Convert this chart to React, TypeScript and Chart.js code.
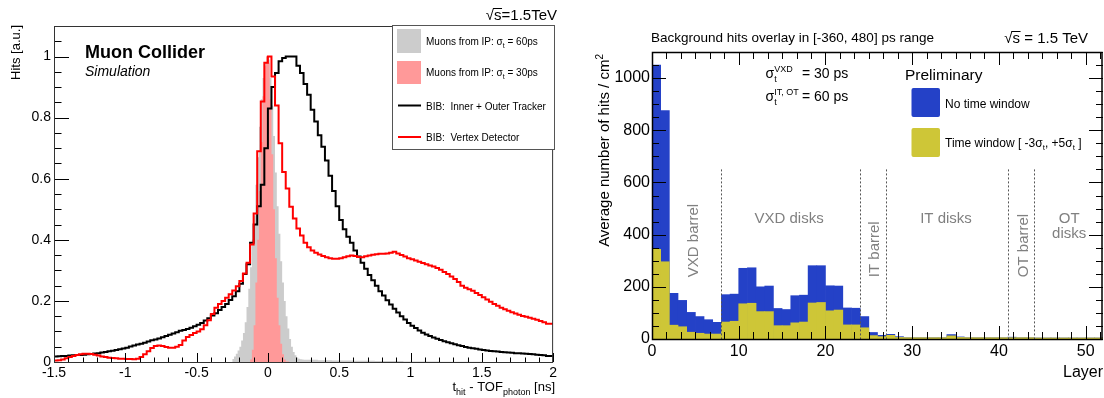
import React, { useEffect, useRef } from "react";
import { Chart, registerables } from "chart.js";

Chart.register(...registerables);

const FONT = "'Liberation Sans', Arial, Helvetica, sans-serif";

// ---------------- Left panel: hit time distributions ----------------
const TIME_START = -1.5;
const TIME_BIN = 0.025;
const TIME_MIN = -1.5;
const TIME_MAX = 2;
const HITS_MAX = 1.1;

// BIB: Inner + Outer Tracker (black), 140 bins of 0.025 ns from -1.5
const bibTracker = [
  0.017, 0.018, 0.019, 0.020, 0.020, 0.021, 0.022, 0.023, 0.023, 0.024,
  0.025, 0.026, 0.028, 0.029, 0.031, 0.033, 0.035, 0.037, 0.039, 0.042,
  0.044, 0.047, 0.051, 0.054, 0.057, 0.060, 0.063, 0.067, 0.071, 0.074,
  0.077, 0.081, 0.085, 0.089, 0.093, 0.097, 0.102, 0.105, 0.108, 0.112,
  0.117, 0.122, 0.128, 0.136, 0.143, 0.152, 0.160, 0.170, 0.180, 0.190,
  0.203, 0.215, 0.232, 0.256, 0.288, 0.320, 0.390, 0.450, 0.510, 0.580,
  0.700, 0.830, 0.900, 0.946, 0.985, 0.995, 1.000, 1.000, 1.000, 0.970,
  0.946, 0.910, 0.875, 0.826, 0.787, 0.742, 0.705, 0.660, 0.610, 0.560,
  0.510, 0.465, 0.435, 0.410, 0.390, 0.365, 0.345, 0.325, 0.305, 0.285,
  0.268, 0.250, 0.232, 0.218, 0.202, 0.188, 0.174, 0.162, 0.150, 0.139,
  0.128, 0.119, 0.111, 0.103, 0.096, 0.090, 0.085, 0.080, 0.076, 0.072,
  0.068, 0.065, 0.061, 0.058, 0.055, 0.052, 0.049, 0.047, 0.045, 0.043,
  0.041, 0.039, 0.038, 0.036, 0.035, 0.034, 0.033, 0.032, 0.031, 0.030,
  0.029, 0.029, 0.028, 0.027, 0.026, 0.025, 0.024, 0.023, 0.022, 0.020,
];

// BIB: Vertex Detector (red), same binning
const bibVertex = [
  0.004, 0.005, 0.006, 0.008, 0.012, 0.016, 0.020, 0.023, 0.025, 0.027,
  0.027, 0.026, 0.024, 0.021, 0.018, 0.016, 0.014, 0.013, 0.012, 0.011,
  0.011, 0.010, 0.010, 0.009, 0.011, 0.016, 0.025, 0.035, 0.046, 0.052,
  0.054, 0.052, 0.049, 0.047, 0.047, 0.050, 0.056, 0.070, 0.082, 0.088,
  0.095, 0.100, 0.107, 0.120, 0.137, 0.157, 0.178, 0.190, 0.200, 0.210,
  0.222, 0.234, 0.248, 0.265, 0.290, 0.325, 0.385, 0.486, 0.690, 0.853,
  0.980, 1.000, 0.935, 0.840, 0.716, 0.622, 0.568, 0.508, 0.470, 0.437,
  0.414, 0.390, 0.376, 0.365, 0.358, 0.352, 0.347, 0.343, 0.340, 0.338,
  0.338, 0.340, 0.343, 0.346, 0.349, 0.347, 0.344, 0.343, 0.346, 0.349,
  0.351, 0.353, 0.354, 0.354, 0.355, 0.358, 0.361, 0.355, 0.350, 0.345,
  0.340, 0.336, 0.332, 0.328, 0.324, 0.320, 0.316, 0.313, 0.308, 0.302,
  0.295, 0.288, 0.280, 0.272, 0.262, 0.250, 0.243, 0.238, 0.233, 0.226,
  0.219, 0.212, 0.205, 0.197, 0.190, 0.184, 0.178, 0.173, 0.168, 0.163,
  0.159, 0.155, 0.151, 0.148, 0.145, 0.142, 0.138, 0.134, 0.130, 0.125,
];

// Muons from IP, sigma_t = 60 ps (grey fill)
const MUON_BIN = 0.0125;
const MUON60_START = -0.25;
const muon60 = [
  0.005, 0.010, 0.018, 0.027, 0.038, 0.050, 0.070, 0.095, 0.130, 0.180,
  0.240, 0.310, 0.400, 0.480, 0.580, 0.670, 0.770, 0.860, 0.930, 0.980,
  1.000, 0.990, 0.930, 0.840, 0.740, 0.620, 0.510, 0.420, 0.330, 0.260,
  0.200, 0.150, 0.110, 0.075, 0.050, 0.033, 0.022, 0.015, 0.011, 0.009,
];
const MUON60_TAIL_START = 0.25;
const MUON60_TAIL_BIN = 0.05;
const muon60Tail = [
  0.008, 0.007, 0.007, 0.006, 0.006, 0.005, 0.005, 0.005, 0.004, 0.004,
  0.004, 0.003, 0.003, 0.003, 0.003, 0.002, 0.002, 0.002, 0.002, 0.002,
  0.001, 0.001, 0.001, 0.001, 0.001,
];

// Muons from IP, sigma_t = 30 ps (pink fill)
const MUON30_START = -0.125;
const muon30 = [
  0.002, 0.008, 0.040, 0.120, 0.260, 0.400, 0.560, 0.720, 0.870, 0.970,
  1.000, 0.980, 0.860, 0.680, 0.500, 0.340, 0.210, 0.120, 0.060, 0.025,
  0.008, 0.002,
];

// ---------------- Right panel: hits per layer ----------------
const LAYER_MAX = 52;
const HITS_CM2_MAX = 1100;
const layerNoWindow = [
  1050, 875, 175, 148, 102, 86, 74, 64, 170, 172,
  271, 273, 200, 203, 117, 113, 166, 168, 281, 281,
  204, 203, 119, 118, 86, 25, 14, 18, 9, 5,
  5, 5, 5, 5, 17, 8, 5, 5, 5, 5,
  5, 7, 5, 5, 4, 4, 4, 4, 4, 4,
  4, 4,
];
const layerTimeWindow = [
  344, 296, 53, 47, 26, 22, 19, 19, 65, 68,
  135, 137, 105, 105, 51, 51, 62, 65, 138, 140,
  108, 111, 54, 54, 43, 13, 9, 14, 6, 5,
  5, 5, 5, 5, 12, 6, 5, 5, 5, 5,
  5, 5, 5, 5, 4, 4, 4, 4, 4, 4,
  4, 4,
];
const regionBounds = [8, 24, 27, 41, 44];

// ---------------- helpers ----------------
type Pt = { x: number; y: number };
function histPoints(start: number, bin: number, vals: number[]): Pt[] {
  const pts = vals.map((v, i) => ({ x: start + i * bin, y: v }));
  pts.push({ x: start + vals.length * bin, y: vals[vals.length - 1] });
  return pts;
}
function filledHist(parts: { start: number; bin: number; vals: number[] }[]): Pt[] {
  const pts: Pt[] = [{ x: parts[0].start, y: 0 }];
  parts.forEach((p) => p.vals.forEach((v, i) => pts.push({ x: p.start + i * p.bin, y: v })));
  const last = parts[parts.length - 1];
  const end = last.start + last.vals.length * last.bin;
  pts.push({ x: end, y: last.vals[last.vals.length - 1] });
  pts.push({ x: end, y: 0 });
  return pts;
}

type Seg = { t: string; size: number; dy?: number; style?: string; stack?: boolean };
function fontOf(s: Seg) {
  return `${s.style || ""} ${s.size}px ${FONT}`.trim();
}
function drawSegs(ctx: CanvasRenderingContext2D, x: number, y: number, segs: Seg[], align = "left") {
  const widths = segs.map((s) => {
    ctx.font = fontOf(s);
    return ctx.measureText(s.t).width;
  });
  let total = 0;
  segs.forEach((s, i) => {
    if (!s.stack) total += widths[i];
  });
  let cx = align === "right" ? x - total : align === "center" ? x - total / 2 : x;
  ctx.textAlign = "left";
  segs.forEach((s, i) => {
    ctx.font = fontOf(s);
    ctx.fillText(s.t, cx, y + (s.dy || 0));
    if (!s.stack) cx += widths[i];
  });
}
function drawSqrtS(ctx: CanvasRenderingContext2D, xRight: number, base: number, size: number, rest: string) {
  ctx.font = `${size}px ${FONT}`;
  const wR = ctx.measureText("√").width;
  const wS = ctx.measureText("s").width;
  const wRest = ctx.measureText(rest).width;
  const x0 = xRight - (wR + wS + wRest);
  ctx.textAlign = "left";
  ctx.fillText("√", x0, base);
  ctx.fillText("s", x0 + wR, base);
  ctx.fillText(rest, x0 + wR + wS, base);
  ctx.beginPath();
  ctx.lineWidth = 1;
  ctx.strokeStyle = "#000";
  const oy = Math.round(base - size * 0.8) + 0.5;
  ctx.moveTo(x0 + wR - 1, oy);
  ctx.lineTo(x0 + wR + wS + 0.5, oy);
  ctx.stroke();
}
function tickLine(ctx: CanvasRenderingContext2D, x1: number, y1: number, x2: number, y2: number) {
  ctx.beginPath();
  ctx.moveTo(x1, y1);
  ctx.lineTo(x2, y2);
  ctx.stroke();
}
const fmt = (v: any) => String(Math.round(Number(v) * 100) / 100);

// ---------------- left decorations ----------------
const leftDecor = {
  id: "leftDecor",
  afterDraw(chart: any) {
    const { ctx, chartArea: a, scales } = chart;
    const xs = scales.x;
    const ys = scales.y;
    ctx.save();
    ctx.strokeStyle = "#000";
    ctx.lineWidth = 1;
    for (let i = 0; i <= 35; i++) {
      const px = Math.round(xs.getPixelForValue(TIME_MIN + i * 0.1)) + 0.5;
      tickLine(ctx, px, a.bottom, px, a.bottom - (i % 5 === 0 ? 9 : 4.5));
    }
    for (let i = 0; i <= 22; i++) {
      const py = Math.round(ys.getPixelForValue(i * 0.05)) + 0.5;
      tickLine(ctx, a.left, py, a.left + (i % 4 === 0 ? 15 : 7.5), py);
    }
    ctx.strokeStyle = "#333";
    ctx.strokeRect(a.left + 0.5, a.top + 0.5, a.right - a.left - 1, a.bottom - a.top);

    ctx.fillStyle = "#000";
    ctx.textBaseline = "alphabetic";
    drawSqrtS(ctx, 557, 19.5, 15, "=1.5TeV");
    ctx.font = `bold 18px ${FONT}`;
    ctx.textAlign = "left";
    ctx.fillText("Muon Collider", 85, 57.5);
    ctx.font = `italic 14px ${FONT}`;
    ctx.fillText("Simulation", 85, 75.5);
    ctx.save();
    ctx.translate(20, 25);
    ctx.rotate(-Math.PI / 2);
    ctx.font = `13px ${FONT}`;
    ctx.textAlign = "right";
    ctx.fillText("Hits [a.u.]", 0, 0);
    ctx.restore();
    drawSegs(
      ctx,
      555,
      391,
      [
        { t: "t", size: 13 },
        { t: "hit", size: 9, dy: 4 },
        { t: " - TOF", size: 13 },
        { t: "photon", size: 9, dy: 4 },
        { t: " [ns]", size: 13 },
      ],
      "right"
    );
    // legend box
    ctx.fillStyle = "#fff";
    ctx.fillRect(392.5, 25.5, 162, 124);
    ctx.strokeStyle = "#555";
    ctx.lineWidth = 1;
    ctx.strokeRect(392.5, 25.5, 162, 124);
    ctx.fillStyle = "#cccccc";
    ctx.fillRect(397, 29, 24, 24);
    ctx.fillStyle = "#ff9999";
    ctx.fillRect(397, 61, 24, 23);
    ctx.lineWidth = 2;
    ctx.strokeStyle = "#000";
    tickLine(ctx, 398, 105.5, 421, 105.5);
    ctx.strokeStyle = "#ff0000";
    tickLine(ctx, 398, 137, 421, 137);
    ctx.fillStyle = "#000";
    drawSegs(ctx, 426, 45, [
      { t: "Muons from IP: σ", size: 10 },
      { t: "t", size: 7, dy: 2.5 },
      { t: " = 60ps", size: 10 },
    ]);
    drawSegs(ctx, 426, 76, [
      { t: "Muons from IP: σ", size: 10 },
      { t: "t", size: 7, dy: 2.5 },
      { t: " = 30ps", size: 10 },
    ]);
    drawSegs(ctx, 426, 109.5, [{ t: "BIB:  Inner + Outer Tracker", size: 10 }]);
    drawSegs(ctx, 426, 141, [{ t: "BIB:  Vertex Detector", size: 10 }]);
    ctx.restore();
  },
};

// ---------------- right decorations ----------------
const rightDecor = {
  id: "rightDecor",
  afterDraw(chart: any) {
    const { ctx, chartArea: a, scales } = chart;
    const xs = scales.x;
    const ys = scales.y;
    ctx.save();
    ctx.strokeStyle = "#555";
    ctx.lineWidth = 1;
    ctx.setLineDash([2, 2]);
    regionBounds.forEach((b) => {
      const px = Math.round(xs.getPixelForValue(b)) + 0.5;
      tickLine(ctx, px, ys.getPixelForValue(650), px, ys.getPixelForValue(0));
    });
    ctx.setLineDash([]);
    ctx.fillStyle = "#808080";
    ctx.font = `15px ${FONT}`;
    const rot = (text: string, layer: number) => {
      ctx.save();
      ctx.translate(xs.getPixelForValue(layer) + 5.4, ys.getPixelForValue(237));
      ctx.rotate(-Math.PI / 2);
      ctx.textAlign = "left";
      ctx.fillText(text, 0, 0);
      ctx.restore();
    };
    rot("VXD barrel", 4.67);
    rot("IT barrel", 25.5);
    rot("OT barrel", 42.7);
    ctx.textAlign = "center";
    ctx.fillText("VXD disks", xs.getPixelForValue(15.8), ys.getPixelForValue(446));
    ctx.fillText("IT disks", xs.getPixelForValue(33.9), ys.getPixelForValue(446));
    ctx.fillText("OT", xs.getPixelForValue(48.1), ys.getPixelForValue(446));
    ctx.fillText("disks", xs.getPixelForValue(48.1), ys.getPixelForValue(389));

    ctx.strokeStyle = "#000";
    ctx.lineWidth = 1;
    for (let i = 0; (i * 10) / 6 <= LAYER_MAX + 1e-6; i++) {
      const px = Math.round(xs.getPixelForValue((i * 10) / 6)) + 0.5;
      const len = i % 6 === 0 ? 13 : 7;
      tickLine(ctx, px, a.bottom, px, a.bottom - len);
      tickLine(ctx, px, a.top, px, a.top + len);
    }
    for (let i = 0; i * 50 <= HITS_CM2_MAX; i++) {
      const py = Math.round(ys.getPixelForValue(i * 50)) + 0.5;
      const len = i % 4 === 0 ? 14 : 7;
      tickLine(ctx, a.left, py, a.left + len, py);
      tickLine(ctx, a.right, py, a.right - len, py);
    }
    ctx.lineWidth = 1.5;
    ctx.strokeRect(a.left + 0.5, a.top + 0.5, a.right - a.left - 1.5, a.bottom - a.top);

    ctx.fillStyle = "#000";
    ctx.textBaseline = "alphabetic";
    ctx.textAlign = "left";
    ctx.font = `13.5px ${FONT}`;
    ctx.fillText("Background hits overlay in [-360, 480] ps range", 91, 41.5);
    drawSqrtS(ctx, 528, 43, 15, " = 1.5 TeV");

    ctx.save();
    ctx.translate(48.6, 54);
    ctx.rotate(-Math.PI / 2);
    drawSegs(
      ctx,
      0,
      0,
      [
        { t: "Average number of hits / cm", size: 15 },
        { t: "2", size: 10, dy: -6 },
      ],
      "right"
    );
    ctx.restore();
    ctx.font = `16px ${FONT}`;
    ctx.textAlign = "right";
    ctx.fillText("Layer", 543, 377);

    drawSegs(ctx, 205.5, 78, [
      { t: "σ", size: 14 },
      { t: "t", size: 9, dy: 3.5, stack: true },
      { t: "VXD", size: 9, dy: -6 },
    ]);
    drawSegs(ctx, 242, 78, [{ t: "= 30 ps", size: 14 }]);
    drawSegs(ctx, 205.5, 101, [
      { t: "σ", size: 14 },
      { t: "t", size: 9, dy: 3.5, stack: true },
      { t: "IT, OT", size: 9, dy: -6 },
    ]);
    drawSegs(ctx, 242, 101, [{ t: "= 60 ps", size: 14 }]);

    ctx.font = `15.5px ${FONT}`;
    ctx.textAlign = "left";
    ctx.fillText("Preliminary", 345, 79.5);
    const rr = (x: number, y: number, w: number, h: number, c: string) => {
      ctx.fillStyle = c;
      ctx.beginPath();
      ctx.roundRect(x, y, w, h, 2);
      ctx.fill();
    };
    rr(351.5, 88, 28.5, 29, "#2441c7");
    rr(351.5, 128, 28.5, 29, "#cec637");
    ctx.fillStyle = "#000";
    drawSegs(ctx, 385, 107.5, [{ t: "No time window", size: 12 }]);
    drawSegs(ctx, 385, 146.5, [
      { t: "Time window [ -3σ", size: 12 },
      { t: "t", size: 8, dy: 3 },
      { t: ", +5σ", size: 12 },
      { t: "t", size: 8, dy: 3 },
      { t: " ]", size: 12 },
    ]);
    ctx.restore();
  },
};

function leftConfig(): any {
  return {
    type: "line",
    data: {
      datasets: [
        {
          label: "BIB: Vertex Detector",
          data: histPoints(TIME_START, TIME_BIN, bibVertex),
          stepped: "after",
          borderColor: "#ff0000",
          borderWidth: 2,
          pointRadius: 0,
          fill: false,
        },
        {
          label: "BIB: Inner + Outer Tracker",
          data: histPoints(TIME_START, TIME_BIN, bibTracker),
          stepped: "after",
          borderColor: "#000000",
          borderWidth: 2,
          pointRadius: 0,
          fill: false,
        },
        {
          label: "Muons from IP: 30ps",
          data: filledHist([{ start: MUON30_START, bin: MUON_BIN, vals: muon30 }]),
          stepped: "after",
          borderWidth: 0,
          borderColor: "rgba(0,0,0,0)",
          backgroundColor: "#ff9999",
          pointRadius: 0,
          fill: "origin",
        },
        {
          label: "Muons from IP: 60ps",
          data: filledHist([
            { start: MUON60_START, bin: MUON_BIN, vals: muon60 },
            { start: MUON60_TAIL_START, bin: MUON60_TAIL_BIN, vals: muon60Tail },
          ]),
          stepped: "after",
          borderWidth: 0,
          borderColor: "rgba(0,0,0,0)",
          backgroundColor: "#cccccc",
          pointRadius: 0,
          fill: "origin",
        },
      ],
    },
    options: {
      animation: false,
      responsive: false,
      maintainAspectRatio: false,
      events: [],
      layout: { padding: { top: 26, right: 6, left: 0, bottom: 0 } },
      plugins: { legend: { display: false }, tooltip: { enabled: false } },
      scales: {
        x: {
          type: "linear",
          min: TIME_MIN,
          max: TIME_MAX,
          grid: { display: false, drawTicks: false },
          border: { display: false },
          ticks: {
            stepSize: 0.5,
            autoSkip: false,
            maxRotation: 0,
            includeBounds: false,
            padding: 3,
            color: "#000",
            font: { family: FONT, size: 14 },
            callback: fmt,
          },
          afterFit: (s: any) => {
            s.height = 36;
          },
        },
        y: {
          type: "linear",
          min: 0,
          max: HITS_MAX,
          grid: { display: false, drawTicks: false },
          border: { display: false },
          ticks: {
            stepSize: 0.2,
            autoSkip: false,
            includeBounds: false,
            padding: 3,
            color: "#000",
            font: { family: FONT, size: 14 },
            callback: fmt,
          },
          afterFit: (s: any) => {
            s.width = 54;
          },
        },
      },
    },
    plugins: [leftDecor],
  };
}

function rightConfig(): any {
  const mk = (vals: number[]) => vals.map((v, i) => ({ x: i + 0.5, y: v }));
  return {
    type: "bar",
    data: {
      datasets: [
        {
          label: "Time window [ -3σt, +5σt ]",
          data: mk(layerTimeWindow),
          backgroundColor: "#cec637",
          borderWidth: 0,
          grouped: false,
          barPercentage: 1,
          categoryPercentage: 1,
        },
        {
          label: "No time window",
          data: mk(layerNoWindow),
          backgroundColor: "#2441c7",
          borderWidth: 0,
          grouped: false,
          barPercentage: 1,
          categoryPercentage: 1,
        },
      ],
    },
    options: {
      animation: false,
      responsive: false,
      maintainAspectRatio: false,
      events: [],
      layout: { padding: { top: 52, right: 1, left: 0, bottom: 0 } },
      plugins: { legend: { display: false }, tooltip: { enabled: false } },
      scales: {
        x: {
          type: "linear",
          min: 0,
          max: LAYER_MAX,
          offset: false,
          grid: { display: false, drawTicks: false, offset: false },
          border: { display: false },
          ticks: {
            stepSize: 10,
            autoSkip: false,
            maxRotation: 0,
            includeBounds: false,
            padding: 3,
            color: "#000",
            font: { family: FONT, size: 16 },
            callback: fmt,
          },
          afterFit: (s: any) => {
            s.height = 59;
          },
        },
        y: {
          type: "linear",
          min: 0,
          max: HITS_CM2_MAX,
          grid: { display: false, drawTicks: false },
          border: { display: false },
          ticks: {
            stepSize: 200,
            autoSkip: false,
            includeBounds: false,
            padding: 2,
            color: "#000",
            font: { family: FONT, size: 16 },
            callback: fmt,
          },
          afterFit: (s: any) => {
            s.width = 92;
          },
        },
      },
    },
    plugins: [rightDecor],
  };
}

export default function App() {
  const leftRef = useRef<HTMLCanvasElement>(null);
  const rightRef = useRef<HTMLCanvasElement>(null);
  useEffect(() => {
    const c1 = new Chart(leftRef.current as HTMLCanvasElement, leftConfig());
    const c2 = new Chart(rightRef.current as HTMLCanvasElement, rightConfig());
    return () => {
      c1.destroy();
      c2.destroy();
    };
  }, []);
  return (
    <div
      style={{
        position: "absolute",
        left: 0,
        top: 0,
        width: 1104,
        height: 398,
        background: "#fff",
        overflow: "hidden",
      }}
    >
      <canvas
        ref={leftRef}
        width={560}
        height={398}
        style={{ position: "absolute", left: 0, top: 0, width: 560, height: 398 }}
      />
      <canvas
        ref={rightRef}
        width={544}
        height={398}
        style={{ position: "absolute", left: 560, top: 0, width: 544, height: 398 }}
      />
    </div>
  );
}
